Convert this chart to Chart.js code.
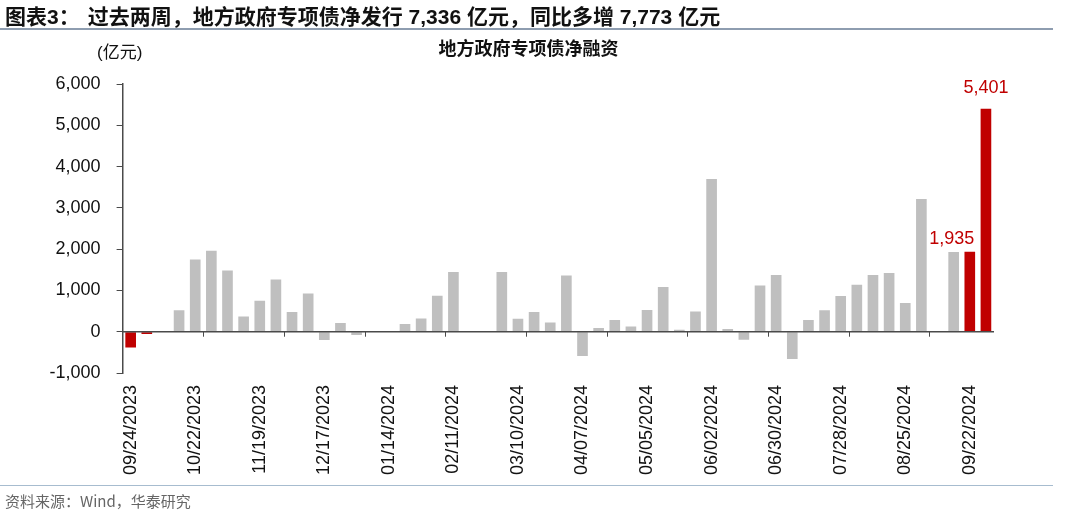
<!DOCTYPE html>
<html>
<head>
<meta charset="utf-8">
<script src="https://cdn.jsdelivr.net/npm/chart.js@4.4.1/dist/chart.umd.min.js"></script>
<style>
  html, body { margin: 0; padding: 0; background: #ffffff; }
  #wrap { position: relative; width: 1080px; height: 526px; overflow: hidden; background: #fff; }
  #chart { position: absolute; left: 0; top: 0; }
  .txt { position: absolute; white-space: nowrap; }
  #title { left: 5px; top: 0px; font: bold 21px "Liberation Sans", "Noto Sans CJK SC", sans-serif; color: #111; }
  #title .sp { display: inline-block; width: 8px; }
  #line1 { position: absolute; left: 0; top: 28px; width: 1053px; height: 2px; background: #8e9db0; }
  #unit { left: 97px; top: 38px; font: 17px "Liberation Sans", "Noto Sans CJK SC", sans-serif; color: #111; }
  #ctitle { left: 0; width: 1057px; text-align: center; top: 34px; font: bold 18px "Noto Sans CJK SC", sans-serif; color: #111; }
  #line2 { position: absolute; left: 0; top: 485px; width: 1053px; height: 1px; background: #a7bccf; }
  #source { left: 5px; top: 490px; font: 15px "Noto Sans CJK SC", sans-serif; color: #666; }
</style>
</head>
<body>
<div id="wrap">
  <canvas id="chart" width="1080" height="526"></canvas>
  <div class="txt" id="title">图表3：<span class="sp"></span>过去两周，地方政府专项债净发行 7,336 亿元，同比多增 7,773 亿元</div>
  <div id="line1"></div>
  <div class="txt" id="unit">(亿元)</div>
  <div class="txt" id="ctitle">地方政府专项债净融资</div>
  <div id="line2"></div>
  <div class="txt" id="source">资料来源：Wind，华泰研究</div>
</div>
<script>
// ---- data ----
const weeks = [
  "09/24/2023","10/01/2023","10/08/2023","10/15/2023","10/22/2023","10/29/2023",
  "11/05/2023","11/12/2023","11/19/2023","11/26/2023","12/03/2023","12/10/2023",
  "12/17/2023","12/24/2023","12/31/2023","01/07/2024","01/14/2024","01/21/2024",
  "01/28/2024","02/04/2024","02/11/2024","02/18/2024","02/25/2024","03/03/2024",
  "03/10/2024","03/17/2024","03/24/2024","03/31/2024","04/07/2024","04/14/2024",
  "04/21/2024","04/28/2024","05/05/2024","05/12/2024","05/19/2024","05/26/2024",
  "06/02/2024","06/09/2024","06/16/2024","06/23/2024","06/30/2024","07/07/2024",
  "07/14/2024","07/21/2024","07/28/2024","08/04/2024","08/11/2024","08/18/2024",
  "08/25/2024","09/01/2024","09/08/2024","09/15/2024","09/22/2024","09/29/2024"
];
const netFinancing = [
  -382, -55, 0, 520, 1750, 1960,
  1485, 370, 750, 1267, 476, 928,
  -200, 210, -80, 0, 0, 186,
  323, 872, 1445, 0, 0, 1445,
  315, 476, 226, 1364, -590, 89,
  282, 129, 525, 1081, 48, 492,
  3700, 65, -195, 1120, 1372, -662,
  282, 517, 864, 1138, 1372, 1420,
  694, 3212, 0, 1930, 1935, 5401
];
const highlightIdx = [0, 1, 52, 53];
const labeledIdx = [52, 53];
const yTicks = [-1000, 0, 1000, 2000, 3000, 4000, 5000, 6000];
const labelEvery = 4;
const tickMarkEvery = 5;

// ---- styles ----
const GREY = '#bfbfbf';
const RED = '#c00000';
const AXIS = '#4a4a4a';
const FONT = '"Liberation Sans", Arial, sans-serif';

const barColors = netFinancing.map((v, i) => highlightIdx.includes(i) ? RED : GREY);

const extrasPlugin = {
  id: 'extras',
  afterDatasetsDraw(chart) {
    const ctx = chart.ctx;
    const xs = chart.scales.x, ys = chart.scales.y;
    const y0 = ys.getPixelForValue(0);
    const half = (xs.getPixelForValue(1) - xs.getPixelForValue(0)) / 2;
    ctx.save();
    // zero axis line
    ctx.strokeStyle = AXIS;
    ctx.lineWidth = 1.5;
    ctx.beginPath();
    ctx.moveTo(chart.chartArea.left, y0);
    ctx.lineTo(chart.chartArea.right, y0);
    ctx.stroke();
    // category boundary tick marks
    ctx.lineWidth = 1;
    for (let i = tickMarkEvery; i < weeks.length; i += tickMarkEvery) {
      const x = Math.round(xs.getPixelForValue(i) - half) + 0.5;
      ctx.beginPath();
      ctx.moveTo(x, y0);
      ctx.lineTo(x, y0 + 5);
      ctx.stroke();
    }
    // data labels
    const meta = chart.getDatasetMeta(0);
    ctx.fillStyle = RED;
    ctx.font = '18px ' + FONT;
    ctx.textAlign = 'center';
    ctx.textBaseline = 'alphabetic';
    labeledIdx.forEach(i => {
      const el = meta.data[i];
      const last = i === weeks.length - 1;
      const dx = last ? 0 : -18;
      const dy = last ? 16 : 8;
      ctx.fillText(netFinancing[i].toLocaleString('en-US'), el.x + dx, el.y - dy);
    });
    ctx.restore();
  }
};

new Chart(document.getElementById('chart'), {
  type: 'bar',
  data: {
    labels: weeks,
    datasets: [{
      data: netFinancing,
      backgroundColor: barColors,
      borderWidth: 0,
      barPercentage: 0.66,
      categoryPercentage: 1.0
    }]
  },
  options: {
    responsive: false,
    animation: false,
    devicePixelRatio: 1,
    layout: { padding: { left: 0, right: 86, top: 84, bottom: 13 } },
    plugins: { legend: { display: false }, tooltip: { enabled: false }, title: { display: false } },
    scales: {
      x: {
        grid: { display: false, drawTicks: false },
        border: { display: false },
        ticks: {
          autoSkip: false,
          minRotation: 90,
          maxRotation: 90,
          padding: 12,
          color: '#111',
          font: { family: FONT, size: 18 },
          callback: (v, i) => (i % labelEvery === 0 ? weeks[i] : '')
        },
        afterFit: (s) => { s.height = 140; }
      },
      y: {
        min: yTicks[0],
        max: yTicks[yTicks.length - 1],
        afterBuildTicks: (s) => { s.ticks = yTicks.map(v => ({ value: v })); },
        border: { display: true, color: AXIS, width: 1.5 },
        grid: {
          drawOnChartArea: false,
          color: 'rgba(0,0,0,0)',
          tickColor: AXIS,
          tickLength: 6,
          lineWidth: 1
        },
        ticks: {
          padding: 16,
          color: '#111',
          font: { family: FONT, size: 18 },
          callback: (v) => Number(v).toLocaleString('en-US')
        },
        afterFit: (s) => { s.width = 122.6; }
      }
    }
  },
  plugins: [extrasPlugin]
});
</script>
</body>
</html>
